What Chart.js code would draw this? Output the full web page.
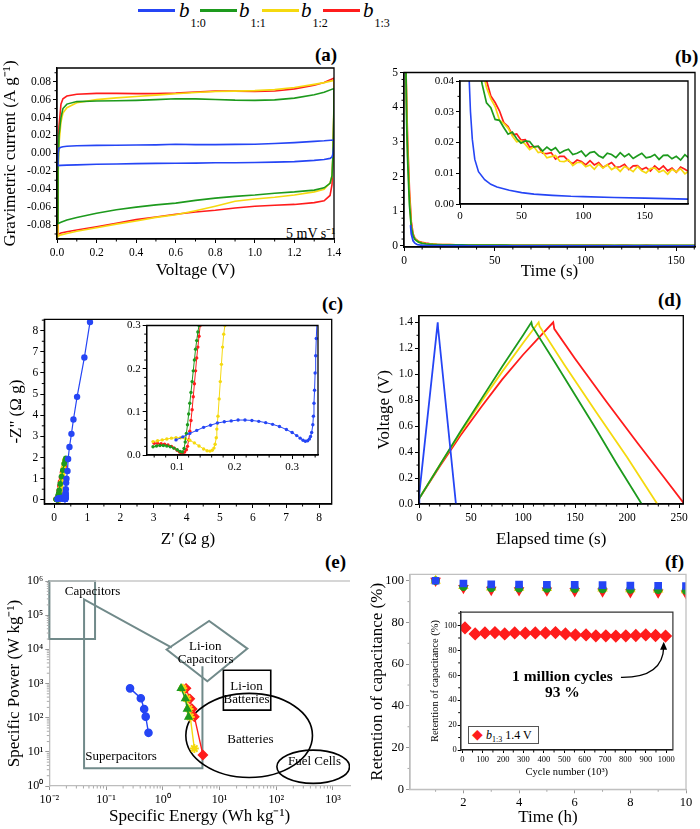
<!DOCTYPE html>
<html><head><meta charset="utf-8">
<script src="https://cdn.jsdelivr.net/npm/chart.js@4.4.1/dist/chart.umd.min.js"></script>
<style>
html,body{margin:0;padding:0;background:#fff;}
#wrap{position:relative;width:700px;height:829px;overflow:hidden;font-family:"Liberation Serif","Times New Roman",serif;color:#000;}
canvas{position:absolute;}
.sw{position:absolute;top:9px;width:37px;height:3px;}
.lt{position:absolute;top:0px;font-size:21px;line-height:20px;white-space:nowrap;}
.lt sub{font-size:12px;font-style:normal;vertical-align:baseline;position:relative;top:10px;left:1px;}
.pl{position:absolute;font-weight:bold;font-size:19px;line-height:19px;}
.txt{position:absolute;white-space:nowrap;}
#ileg{position:absolute;left:468px;top:726px;width:69px;height:16px;border:1px solid #555;background:#fff;font-size:12px;line-height:16px;white-space:nowrap;}
#ileg sub{font-size:8px;vertical-align:baseline;position:relative;top:3px;}
</style></head><body><div id="wrap">
<div class="sw" style="left:138px;background:#2545f5"></div><div class="lt" style="left:179px"><i>b</i><sub>1:0</sub></div>
<div class="sw" style="left:200px;background:#1d9a1d"></div><div class="lt" style="left:239px"><i>b</i><sub>1:1</sub></div>
<div class="sw" style="left:262px;background:#f5d90f"></div><div class="lt" style="left:301px"><i>b</i><sub>1:2</sub></div>
<div class="sw" style="left:323px;background:#ff1c1c"></div><div class="lt" style="left:363px"><i>b</i><sub>1:3</sub></div>
<div class="pl" style="left:315px;top:45px">(a)</div>
<div class="pl" style="left:675px;top:47px">(b)</div>
<div class="pl" style="left:322px;top:294px">(c)</div>
<div class="pl" style="left:658px;top:290px">(d)</div>
<div class="pl" style="left:325px;top:552px">(e)</div>
<div class="pl" style="left:665px;top:552px">(f)</div>
<div class="txt" style="left:286px;top:227px;font-size:14px;line-height:14px">5 mV s⁻¹</div>
</div>
<script>
const SERIF = '"Liberation Serif","Times New Roman",serif';
const COL = {b10:'#2545f5', b11:'#1d9a1d', b12:'#f5d90f', b13:'#ff1c1c'};
const GRAY = '#718a8a';

// ---------- (a) cyclic voltammetry ----------
const cvVoltage = [0,0.005,0.01,0.02,0.03,0.05,0.1,0.2,0.3,0.4,0.5,0.6,0.7,0.8,0.9,1.0,1.1,1.2,1.3,1.35,1.4,
                   1.4,1.395,1.39,1.38,1.35,1.3,1.2,1.1,1.0,0.9,0.8,0.7,0.6,0.5,0.4,0.3,0.2,0.1,0.05,0.02,0.0];
const cvB10 = [-0.0135,0.0,0.0056,0.0068,0.0074,0.0079,0.0085,0.0089,0.0091,0.0093,0.0095,0.0101,0.0098,0.0098,0.0100,0.0102,0.0110,0.0120,0.0134,0.0140,0.0149,
               0.0100,0.0,-0.0040,-0.0056,-0.0068,-0.0078,-0.0092,-0.0098,-0.0102,-0.0104,-0.0105,-0.0109,-0.0110,-0.0112,-0.0114,-0.0118,-0.0122,-0.0128,-0.0131,-0.0134,-0.0137];
const cvB11 = [-0.078,-0.02,0.02,0.04,0.05,0.055,0.0578,0.0585,0.0587,0.0592,0.0600,0.0610,0.0608,0.0602,0.0594,0.0592,0.0597,0.0617,0.0655,0.0682,0.0724,
               0.055,0.0,-0.025,-0.0335,-0.0385,-0.0410,-0.0430,-0.0445,-0.0465,-0.0480,-0.0500,-0.0525,-0.0555,-0.0575,-0.0600,-0.0630,-0.0668,-0.0715,-0.0745,-0.0770,-0.0790];
const cvB12 = [-0.093,-0.03,0.01,0.035,0.045,0.051,0.0565,0.0600,0.0620,0.0635,0.0650,0.0665,0.0680,0.0690,0.0695,0.0700,0.0712,0.0735,0.0770,0.0790,0.0815,
               0.060,0.0,-0.025,-0.033,-0.040,-0.043,-0.0465,-0.0490,-0.0510,-0.0535,-0.0590,-0.0640,-0.0685,-0.0715,-0.0755,-0.0790,-0.0830,-0.0870,-0.0895,-0.0910,-0.0930];
const cvB13 = [-0.091,-0.01,0.03,0.055,0.061,0.064,0.0660,0.0670,0.0670,0.0667,0.0667,0.0672,0.0685,0.0695,0.0695,0.0690,0.0697,0.0720,0.0760,0.0790,0.0840,
               0.050,0.0,-0.035,-0.047,-0.053,-0.0550,-0.0570,-0.0580,-0.0590,-0.0610,-0.0635,-0.0655,-0.0680,-0.0710,-0.0740,-0.0780,-0.0820,-0.0855,-0.0875,-0.0890,-0.0910];
const cvTicksX = [0,0.2,0.4,0.6,0.8,1.0,1.2,1.4];
const cvTicksY = [-0.08,-0.06,-0.04,-0.02,0,0.02,0.04,0.06,0.08];

// ---------- (b) current decay ----------
const decayTimeB10 = [3.6,4,5,6,7,7.5,8.5,10,12,15,20,25,30,40,50,60,75,90,100,125,150,185];
const decayB10 = [0.6,0.35,0.15,0.08,0.05,0.04,0.03,0.021,0.0145,0.0105,0.0079,0.0064,0.0055,0.0045,0.0037,0.0032,0.0028,0.0025,0.0024,0.0021,0.0019,0.0016];
const decayTimeEarly = [1,1.5,2,3,4,5,6,8,10,12,14,16];
const decayEarlyB11 = [5.3,3.5,2.5,1.2,0.55,0.3,0.19,0.11,0.075,0.06,0.05,0.043];
const decayEarlyB12 = [5.3,3.8,2.7,1.4,0.6,0.32,0.2,0.12,0.088,0.07,0.058,0.05];
const decayEarlyB13 = [5.3,4.0,3.0,1.6,0.7,0.35,0.22,0.13,0.1,0.08,0.066,0.056];
const decayTimeLate = [18,21.5,25,28.5,32,35.5,39,42.5,46,49.5,53,56.5,60,63.5,67,70.5,74,77.5,81,84.5,88,91.5,95,98.5,102,105.5,109,112.5,116,119.5,123,126.5,130,133.5,137,140.5,144,147.5,151,154.5,158,161.5,165,168.5,172,175.5,179,182.5,186];
const decayLateB11 = [0.0389,0.0329,0.0313,0.0275,0.0272,0.0249,0.0227,0.0234,0.0212,0.0198,0.0205,0.0203,0.0185,0.0188,0.0172,0.0185,0.0174,0.0183,0.0165,0.0173,0.0178,0.0161,0.0165,0.0172,0.0155,0.0167,0.017,0.0157,0.015,0.0165,0.0161,0.0151,0.0167,0.0154,0.0163,0.0148,0.0157,0.0165,0.015,0.0153,0.0161,0.0145,0.0158,0.0159,0.0147,0.0155,0.0143,0.016,0.0149];
const decayLateB12 = [0.044,0.0379,0.0342,0.0317,0.0273,0.0262,0.0247,0.0221,0.0202,0.0206,0.0194,0.0177,0.0186,0.0167,0.017,0.015,0.0154,0.0158,0.0139,0.0138,0.0144,0.0125,0.0135,0.0135,0.0121,0.0127,0.0113,0.013,0.0117,0.0128,0.0112,0.012,0.0106,0.0122,0.0115,0.0105,0.0122,0.0108,0.0101,0.0115,0.0117,0.0103,0.011,0.0097,0.0113,0.0104,0.0115,0.0098,0.0108];
const decayLateB13 = [0.0465,0.0402,0.0351,0.033,0.0303,0.0265,0.0252,0.0225,0.0228,0.0208,0.0209,0.0185,0.0187,0.0187,0.0165,0.0164,0.0167,0.0146,0.0155,0.0155,0.014,0.0131,0.0143,0.0138,0.0127,0.0141,0.0127,0.0135,0.0119,0.0127,0.0135,0.0119,0.0121,0.0129,0.0112,0.0124,0.0125,0.0112,0.0119,0.0107,0.0124,0.0112,0.0124,0.0108,0.0117,0.0103,0.012,0.0113,0.0104];
const decayTicksX = [0,50,100,150];
const decayTicksY = [0,1,2,3,4,5];
const decayInsetTicksY = [0,0.01,0.02,0.03,0.04];

// ---------- (c) Nyquist ----------
const zReB10 = [0.098,0.11,0.122,0.134,0.146,0.158,0.17,0.182,0.194,0.206,0.218,0.23,0.242,0.254,0.266,0.278,0.29,0.3,0.308,0.314,0.319,0.323,0.327,0.33,0.332,0.334,0.336,0.337,0.338,0.339,0.34,0.341,0.342,0.344,0.35,0.36,0.37,0.4,0.42,0.46,0.52,0.58,0.69,0.91,1.08];
const zImB10 = [0.035,0.042,0.05,0.057,0.064,0.069,0.074,0.077,0.079,0.081,0.081,0.08,0.078,0.075,0.071,0.066,0.059,0.052,0.045,0.039,0.034,0.032,0.033,0.037,0.043,0.052,0.07,0.09,0.12,0.15,0.19,0.23,0.27,0.33,0.5,0.8,1.0,1.36,1.93,2.5,3.12,3.8,4.87,6.73,8.41];
const zReB11 = [0.058,0.064,0.07,0.076,0.082,0.088,0.094,0.1,0.105,0.109,0.112,0.114,0.116,0.118,0.12,0.122,0.124,0.126,0.128,0.13,0.132,0.134,0.136,0.138,0.15,0.18,0.22,0.26,0.3,0.33,0.35];
const zImB11 = [0.019,0.021,0.022,0.022,0.021,0.019,0.016,0.012,0.008,0.007,0.015,0.03,0.05,0.07,0.095,0.12,0.145,0.17,0.195,0.22,0.245,0.265,0.285,0.3,0.45,0.75,1.1,1.4,1.7,1.85,1.96];
const zReB12 = [0.058,0.066,0.074,0.082,0.09,0.098,0.106,0.114,0.122,0.13,0.138,0.146,0.152,0.157,0.161,0.164,0.166,0.168,0.169,0.171,0.173,0.175,0.177,0.179,0.181,0.183,0.187,0.2,0.22,0.25,0.28,0.3,0.32];
const zImB12 = [0.031,0.033,0.035,0.037,0.039,0.04,0.04,0.038,0.034,0.028,0.021,0.014,0.01,0.009,0.011,0.016,0.025,0.04,0.06,0.09,0.13,0.17,0.21,0.25,0.28,0.3,0.4,0.6,0.85,1.2,1.5,1.7,1.88];
const zReB13 = [0.06,0.066,0.072,0.078,0.084,0.09,0.095,0.1,0.104,0.107,0.11,0.113,0.116,0.118,0.12,0.122,0.124,0.126,0.128,0.13,0.132,0.134,0.136,0.138,0.14,0.15,0.17,0.19,0.22,0.25,0.28,0.31];
const zImB13 = [0.027,0.027,0.026,0.025,0.023,0.02,0.016,0.011,0.007,0.005,0.005,0.007,0.012,0.02,0.035,0.055,0.08,0.105,0.135,0.165,0.195,0.225,0.25,0.275,0.3,0.42,0.65,0.85,1.05,1.3,1.45,1.6];
const nyqTicks = [0,1,2,3,4,5,6,7,8];
const nyqInsetTicksX = [0.1,0.2,0.3];
const nyqInsetTicksY = [0,0.1,0.2,0.3];

// ---------- (d) galvanostatic charge/discharge ----------
const gcdTimeB10 = [0,0.3,18,18.3,35.5];
const gcdB10 = [0,0.08,1.4,1.36,0];
const gcdTimeB11 = [0,20,40,60,80,100,108,108.8,130,150,170,190,214];
const gcdB11 = [0.04,0.3,0.56,0.81,1.06,1.3,1.4,1.37,1.1,0.84,0.58,0.31,0];
const gcdTimeB12 = [0,20,40,60,80,100,115,115.8,140,170,200,229];
const gcdB12 = [0.04,0.3,0.55,0.79,1.02,1.24,1.4,1.37,1.07,0.71,0.36,0];
const gcdTimeB13 = [0,20,40,60,80,100,115,129,130,150,180,210,235,255];
const gcdB13 = [0.04,0.29,0.53,0.75,0.96,1.15,1.28,1.4,1.35,1.12,0.79,0.47,0.21,0];
const gcdTicksX = [0,50,100,150,200,250];
const gcdTicksY = [0,0.2,0.4,0.6,0.8,1.0,1.2,1.4];

// ---------- (e) Ragone ----------
const energyB10 = [0.265,0.41,0.47,0.5,0.56];  const powerB10 = [720,370,180,107,36];
const energyB11 = [2.1,2.5,2.7,2.85];           const powerB11 = [720,360,180,105];
const energyB12 = [2.25,2.65,2.9,3.05,3.6];     const powerB12 = [720,360,180,105,12.5];
const energyB13 = [2.57,3.0,3.3,3.6,5.1];       const powerB13 = [720,355,180,107,8.1];
const ragoneTicksX = [0.01,0.1,1,10,100,1000];
const ragoneTicksY = [1,10,100,1000,1e4,1e5,1e6];
const regionCapacitors = [[0.01,2e4],[0.064,1e6]];
const regionSuperLine = [[1.44,1.12e4],[0.041,2.9e5],[0.041,3.3],[5.0,3.3],[5.0,3.2e3]];
const regionLiCap = [[1.17,9.9e3],[6.56,6.8e4],[31,1.05e4],[6.1,1.17e3]];
const regionLiBat = [[11.7,166],[80,2450]];
const regionBatteries = {center:[33.3,30.2], decadesX:1.116, decadesY:1.23};
const regionFuelCells = {center:[448,3.66], decadesX:0.64, decadesY:0.487};
const regionLabels = [['Capacitors',0.058,5.0e5],['Li-ion',5.6,1.2e4],['Capacitors',5.7,5.1e3],['Li-ion',30,800],['Batteries',30,340],['Batteries',35,23],['Superpacitors',0.184,7.4],['Fuel Cells',472,5.2]];

// ---------- (f) retention ----------
const hours = [1,2,3,4,5,6,7,8,9,10];
const retB10 = [100,98.7,98.3,98.2,98.1,98,97.9,97.7,97.6,97.5];
const retB11 = [100,97.2,96.5,96.4,96.3,96.2,96.1,95.8,95.7,95.4];
const retB12 = [100,97.5,96.8,96.7,96.6,96.4,96.3,96.0,95.8,95.5];
const retB13 = [100,96.5,95.6,95.4,95.3,95.0,94.8,94.5,94.3,93.9];
const retTicksX = [2,4,6,8,10];
const retTicksY = [0,20,40,60,80,100];
const cycles = [13,63,111,160,208,257,309,358,408,457,506,555,607,655,704,753,802,851,900,948,997];
const retCycles = [98.1,93.3,94.1,94.4,93.3,94.1,93.9,94.1,94.1,94.4,93.3,92.5,92.5,91.7,91.7,91.5,91.7,92.0,92.5,92.0,91.5];
const cycleTicksX = [0,100,200,300,400,500,600,700,800,900,1000];
const cycleTicksY = [0,20,40,60,80,100];
const noteLines = [['1 million cycles',491,58.4],['93 %',491,45.4]];
const arrowPath = [[778,58.4],[985,58],[988,87]];

// ---------- helpers ----------
const xy = (xs, ys) => xs.map((x, i) => ({x, y: ys[i]}));
function line(data, color, o) {
  return Object.assign({data, borderColor: color, backgroundColor: color, showLine: true, pointRadius: 0, borderWidth: 1.6, tension: 0}, o || {});
}
function drawMinor(ctx, a, s, n, horiz, len) {
  const maj = s.ticks.map(t => t.value);
  const vals = [];
  if (s.type === 'logarithmic') {
    for (let e = Math.floor(Math.log10(s.min)); e <= Math.ceil(Math.log10(s.max)); e++)
      for (let k = 2; k < 10; k++) vals.push(k * Math.pow(10, e));
  } else {
    const st = (maj[1] - maj[0]) / n;
    const k0 = Math.ceil((s.min - maj[0]) / st - 1e-6);
    for (let k = k0; maj[0] + k * st <= s.max + 1e-9; k++) if (((k % n) + n) % n !== 0) vals.push(maj[0] + k * st);
  }
  ctx.beginPath();
  for (const v of vals) {
    if (v < s.min || v > s.max) continue;
    const p = s.getPixelForValue(v);
    if (horiz) { ctx.moveTo(p, a.bottom); ctx.lineTo(p, a.bottom + len); }
    else { ctx.moveTo(a.left - len, p); ctx.lineTo(a.left, p); }
  }
  ctx.stroke();
}
const framePlugin = {
  id: 'frame',
  afterDraw(chart, args, o) {
    const {ctx, chartArea: a, scales} = chart;
    ctx.save();
    ctx.strokeStyle = o.tickColor || '#000'; ctx.lineWidth = 1;
    if (o.minorX) drawMinor(ctx, a, scales.x, o.minorX, true, 2.5);
    if (o.minorY) drawMinor(ctx, a, scales.y, o.minorY, false, 2.5);
    ctx.strokeStyle = o.color || '#000'; ctx.lineWidth = o.width || 1.3;
    ctx.beginPath();
    if (o.topOnly) { ctx.moveTo(a.left, a.top); ctx.lineTo(a.right, a.top); }
    else ctx.rect(a.left, a.top, a.right - a.left, a.bottom - a.top);
    ctx.stroke();
    ctx.restore();
  }
};
function axisCfg(o) {
  const horiz = o.pos === 'bottom';
  const c = {
    type: o.type || 'linear', position: o.pos, min: o.min, max: o.max,
    afterBuildTicks: s => { s.ticks = o.ticks.map(v => ({value: v})); },
    afterFit: s => {
      if (horiz) s.height = o.size; else s.width = o.size;
      s.paddingLeft = 0; s.paddingRight = 0; s.paddingTop = 0; s.paddingBottom = 0;
    },
    ticks: {autoSkip: false, maxRotation: 0, minRotation: 0, padding: o.pad != null ? o.pad : 2, color: '#000',
            font: {family: SERIF, size: o.fs || 11.5}, callback: o.fmt},
    grid: {display: true, drawOnChartArea: false, drawTicks: true, tickLength: o.tl != null ? o.tl : 4, tickColor: o.tickCol || '#000', tickWidth: 1},
    border: {display: true, color: o.bc || '#000', width: o.bw || 1.3},
    title: {display: false}
  };
  if (o.title) {
    const fs = o.tfs || 17;
    const tp = Math.max(0, o.tpad);
    c.title = {display: true, text: o.title, color: '#000', font: {family: SERIF, size: fs, lineHeight: 1.2},
               padding: horiz ? {top: 0, bottom: tp} : {top: tp, bottom: 0}};
  }
  return c;
}
function makeChart(box, plot, xo, yo, datasets, frame, extra) {
  const c = document.createElement('canvas');
  c.width = box[2]; c.height = box[3];
  c.style.left = box[0] + 'px'; c.style.top = box[1] + 'px';
  document.getElementById('wrap').appendChild(c);
  xo.pos = 'bottom'; yo.pos = 'left';
  xo.size = box[1] + box[3] - plot[3];
  yo.size = plot[0] - box[0];
  if (xo.title) xo.tpad = box[1] + box[3] - xo.tcen - (xo.tfs || 17) * 0.6;
  if (yo.title) yo.tpad = yo.tcen - box[0] - (yo.tfs || 17) * 0.6;
  const padTop = plot[1] - box[1], padRight = box[0] + box[2] - plot[2];
  const ch = new Chart(c, {
    type: 'scatter',
    data: {datasets},
    options: {
      responsive: false, animation: false, devicePixelRatio: 1,
      layout: {padding: {left: 0, bottom: 0, top: padTop, right: padRight}},
      plugins: {legend: {display: false}, tooltip: {enabled: false}, frame},
      scales: {x: axisCfg(xo), y: axisCfg(yo)}
    },
    plugins: [framePlugin].concat(extra || [])
  });
  // keep the plot rectangle where the reference has it (chartArea is canvas-local)
  const a = ch.chartArea;
  const dr = (plot[2] - box[0]) - a.right;
  if (Math.abs(dr) > 0.75 && Math.abs(dr) < 20) {
    ch.options.layout.padding = {left: 0, bottom: 0, top: padTop, right: padRight - dr};
    ch.update();
  }
  return ch;
}
const f1 = v => v.toFixed(1), f2 = v => v.toFixed(2), f0 = v => String(v);
const SUP = {'-': '⁻', '0': '⁰', '1': '¹', '2': '²', '3': '³', '4': '⁴', '5': '⁵', '6': '⁶'};
const pow10 = v => '10' + String(Math.round(Math.log10(v))).split('').map(ch => SUP[ch]).join('');

// ---------- (a) ----------
makeChart([0, 42, 345, 240], [57, 68, 334, 239],
  {min: 0, max: 1.4, ticks: cvTicksX, fmt: f1, pad: 3, title: 'Voltage (V)', tcen: 271},
  {min: -0.0956, max: 0.0953, ticks: cvTicksY, fmt: f2, title: 'Gravimetric current (A g⁻¹)', tcen: 10.5},
  [line(xy(cvVoltage, cvB10), COL.b10), line(xy(cvVoltage, cvB11), COL.b11),
   line(xy(cvVoltage, cvB12), COL.b12), line(xy(cvVoltage, cvB13), COL.b13)],
  {minorX: 2, minorY: 2});

// ---------- (b) ----------
const bSeries = [
  xy(decayTimeB10, decayB10),
  xy(decayTimeEarly, decayEarlyB11).concat(xy(decayTimeLate, decayLateB11)),
  xy(decayTimeEarly, decayEarlyB12).concat(xy(decayTimeLate, decayLateB12)),
  xy(decayTimeEarly, decayEarlyB13).concat(xy(decayTimeLate, decayLateB13))
];
const bCols = [COL.b10, COL.b11, COL.b12, COL.b13];
makeChart([350, 42, 350, 240], [404, 72.5, 695, 247],
  {min: 0, max: 160.4, ticks: decayTicksX, fmt: f0, pad: 3, title: 'Time (s)', tcen: 272},
  {min: -0.03, max: 5, ticks: decayTicksY, fmt: f0},
  bSeries.map((d, i) => line(d, bCols[i], {borderWidth: 1.8})),
  {minorX: 5, minorY: 5});
makeChart([420, 75, 275, 150], [460, 81, 688, 204],
  {min: 0, max: 185, ticks: decayTicksX, fmt: f0, pad: 2, fs: 11},
  {min: 0, max: 0.04, ticks: decayInsetTicksY, fmt: f2, fs: 11},
  bSeries.map((d, i) => line(d, bCols[i], {borderWidth: i === 0 ? 1.6 : 1.7})),
  {minorY: 2});

// ---------- (c) ----------
const cSeries = [xy(zReB10, zImB10), xy(zReB11, zImB11), xy(zReB12, zImB12), xy(zReB13, zImB13)];
makeChart([0, 295, 345, 260], [44.3, 319.3, 331.7, 504],
  {min: -0.3, max: 8.38, ticks: nyqTicks, fmt: f0, pad: 3, title: "Z' (Ω g)", tcen: 540},
  {min: -0.2, max: 8.54, ticks: nyqTicks, fmt: f0, title: '-Z" (Ω g)', tcen: 17},
  cSeries.map((d, i) => line(d, bCols[i], {borderWidth: 1.2, pointRadius: i === 0 ? 3.2 : 2.8, pointBorderWidth: 0})),
  {minorX: 2, minorY: 2});
makeChart([105, 318, 220, 158], [146.7, 325.5, 318, 455],
  {min: 0.047, max: 0.345, ticks: nyqInsetTicksX, fmt: f1, pad: 2, fs: 11},
  {min: 0, max: 0.3, ticks: nyqInsetTicksY, fmt: f1, fs: 11},
  cSeries.map((d, i) => line(d, bCols[i], {borderWidth: 1, pointRadius: 1.7, pointBorderWidth: 0})),
  {minorX: 5, minorY: 5});

// ---------- (d) ----------
makeChart([350, 295, 345, 256], [419, 315.7, 683.3, 504],
  {min: 0, max: 254, ticks: gcdTicksX, fmt: f0, pad: 3, title: 'Elapsed time (s)', tcen: 540},
  {min: 0, max: 1.451, ticks: gcdTicksY, fmt: f1, title: 'Voltage (V)', tcen: 385},
  [line(xy(gcdTimeB10, gcdB10), COL.b10, {borderWidth: 1.8}), line(xy(gcdTimeB11, gcdB11), COL.b11, {borderWidth: 1.8}),
   line(xy(gcdTimeB12, gcdB12), COL.b12, {borderWidth: 1.8}), line(xy(gcdTimeB13, gcdB13), COL.b13, {borderWidth: 1.8})],
  {minorX: 5, minorY: 2});

// ---------- (e) ----------
const regionsPlugin = {
  id: 'regions',
  beforeDatasetsDraw(chart) {
    const {ctx, scales: {x, y}} = chart;
    const P = p => [x.getPixelForValue(p[0]), y.getPixelForValue(p[1])];
    const poly = (pts, close) => {
      ctx.beginPath();
      pts.forEach((p, i) => { const q = P(p); i ? ctx.lineTo(q[0], q[1]) : ctx.moveTo(q[0], q[1]); });
      if (close) ctx.closePath();
      ctx.stroke();
    };
    const box = r => poly([r[0], [r[1][0], r[0][1]], r[1], [r[0][0], r[1][1]]], true);
    const ell = e => {
      const c = P(e.center);
      const rx = x.getPixelForValue(e.center[0] * Math.pow(10, e.decadesX)) - c[0];
      const ry = c[1] - y.getPixelForValue(e.center[1] * Math.pow(10, e.decadesY));
      ctx.beginPath(); ctx.ellipse(c[0], c[1], rx, ry, 0, 0, Math.PI * 2); ctx.stroke();
    };
    ctx.save();
    ctx.beginPath(); ctx.rect(0, 0, chart.chartArea.right, chart.height); ctx.clip();
    ctx.strokeStyle = GRAY; ctx.lineWidth = 2;
    box(regionCapacitors);
    poly(regionSuperLine, false);
    poly(regionLiCap, true);
    ctx.strokeStyle = '#000'; ctx.lineWidth = 1.6;
    box(regionLiBat);
    ell(regionBatteries);
    ell(regionFuelCells);
    ctx.fillStyle = '#000'; ctx.font = '13px ' + SERIF; ctx.textAlign = 'center'; ctx.textBaseline = 'middle';
    regionLabels.forEach(l => { const q = P([l[1], l[2]]); ctx.fillText(l[0], q[0], q[1]); });
    ctx.restore();
  }
};
makeChart([0, 560, 360, 269], [49.3, 581, 350, 786],
  {type: 'logarithmic', min: 0.01, max: 1995, ticks: ragoneTicksX, fmt: pow10, pad: 3, fs: 12, bc: '#bdbdbd', tickCol: '#999', title: 'Specific Energy (Wh kg⁻¹)', tcen: 817},
  {type: 'logarithmic', min: 1, max: 1e6, ticks: ragoneTicksY, fmt: pow10, fs: 12, bc: '#bdbdbd', tickCol: '#999', title: 'Specific Power (W kg⁻¹)', tcen: 14.5},
  [line(xy(energyB10, powerB10), COL.b10, {borderWidth: 1.4, pointRadius: 3.6, pointStyle: 'circle'}),
   line(xy(energyB11, powerB11), COL.b11, {borderWidth: 1.4, pointRadius: 4, pointStyle: 'triangle'}),
   line(xy(energyB12, powerB12), COL.b12, {borderWidth: 1.4, pointRadius: 4.5, pointStyle: 'star', pointBorderWidth: 2}),
   line(xy(energyB13, powerB13), COL.b13, {borderWidth: 1.4, pointRadius: 4.5, pointStyle: 'rectRot'})],
  {minorX: 1, minorY: 1, color: '#c8c8c8', width: 1.3, topOnly: true, tickColor: '#aaa'},
  [regionsPlugin]);

// ---------- (f) ----------
makeChart([350, 555, 350, 274], [410, 574.3, 686, 789.3],
  {min: 0.08, max: 10, ticks: retTicksX, fmt: f0, pad: 1.5, fs: 12.5, bc: '#b5b5b5', tickCol: '#999', title: 'Time (h)', tcen: 818},
  {min: 0, max: 103.1, ticks: retTicksY, fmt: f0, fs: 12.5, bc: '#b5b5b5', tickCol: '#999', title: 'Retention of capacitance (%)', tcen: 377.5},
  [line(xy(hours, retB10), COL.b10, {showLine: false, pointRadius: 4.3, pointStyle: 'rect'}),
   line(xy(hours, retB11), COL.b11, {showLine: false, pointRadius: 3.5, pointStyle: 'circle'}),
   line(xy(hours, retB12), COL.b12, {showLine: false, pointRadius: 4.5, pointStyle: 'triangle'}),
   line(xy(hours, retB13), COL.b13, {showLine: false, pointRadius: 4.6, pointStyle: 'triangle', rotation: 180})],
  {minorX: 2, minorY: 2, color: '#c0c0c0', width: 1.3, tickColor: '#aaa'});

const cycleNotes = {
  id: 'cycleNotes',
  afterDatasetsDraw(chart) {
    const {ctx, scales: {x, y}} = chart;
    const P = p => [x.getPixelForValue(p[0]), y.getPixelForValue(p[1])];
    ctx.save();
    ctx.fillStyle = '#000'; ctx.font = 'bold 15.5px ' + SERIF; ctx.textAlign = 'center'; ctx.textBaseline = 'middle';
    noteLines.forEach(n => { const q = P([n[1], n[2]]); ctx.fillText(n[0], q[0], q[1]); });
    const s = P(arrowPath[0]), c = P(arrowPath[1]), e = P(arrowPath[2]);
    ctx.strokeStyle = '#000'; ctx.lineWidth = 1.3;
    ctx.beginPath(); ctx.moveTo(s[0], s[1]); ctx.quadraticCurveTo(c[0], c[1], e[0], e[1] + 5); ctx.stroke();
    const ang = Math.atan2(e[1] - c[1], e[0] - c[0]);
    ctx.beginPath();
    ctx.moveTo(e[0], e[1]);
    ctx.lineTo(e[0] - 8 * Math.cos(ang) + 3.5 * Math.sin(ang), e[1] - 8 * Math.sin(ang) - 3.5 * Math.cos(ang));
    ctx.lineTo(e[0] - 8 * Math.cos(ang) - 3.5 * Math.sin(ang), e[1] - 8 * Math.sin(ang) + 3.5 * Math.cos(ang));
    ctx.closePath(); ctx.fill();
    ctx.restore();
  }
};
makeChart([425, 605, 255, 180], [460.7, 610.7, 674, 750],
  {min: -8, max: 1033, ticks: cycleTicksX, fmt: f0, pad: 2, fs: 8.5, tl: 3, title: 'Cycle number (10³)', tfs: 10.5, tcen: 772.7},
  {min: 0, max: 110.8, ticks: cycleTicksY, fmt: f0, pad: 1, fs: 8.5, tl: 3, title: 'Retention of capacitance (%)', tfs: 10.5, tcen: 435},
  [line(xy(cycles, retCycles), COL.b13, {showLine: false, pointRadius: 5.5, pointStyle: 'rectRot'})],
  {minorX: 2, minorY: 2, color: '#333', width: 1.2},
  [cycleNotes]);

const leg = document.createElement('div');
leg.id = 'ileg';
leg.innerHTML = '<span style="color:#ff1c1c;font-size:14px;margin-left:3px">◆</span> <i>b</i><sub>1:3</sub> 1.4 V';
document.getElementById('wrap').appendChild(leg);
</script>
</body></html>
